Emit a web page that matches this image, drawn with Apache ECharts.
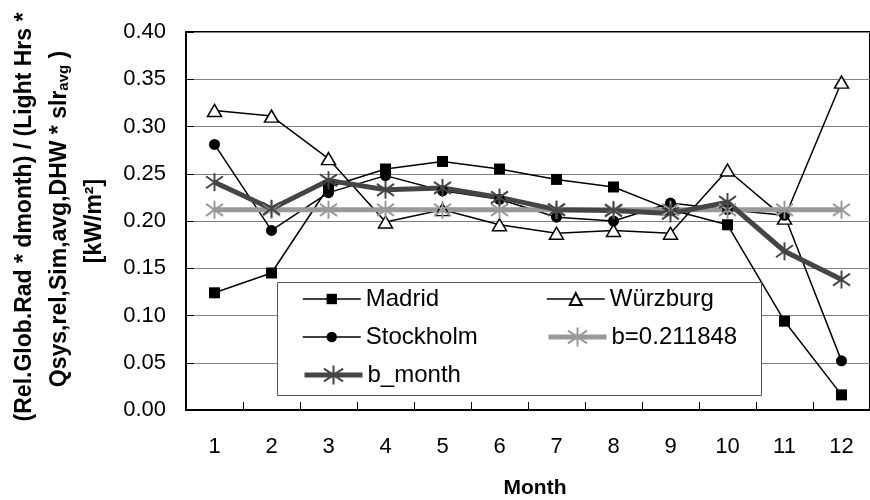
<!DOCTYPE html>
<html>
<head>
<meta charset="utf-8">
<script src="https://cdn.jsdelivr.net/npm/echarts@6/dist/echarts.min.js"></script>
<style>
  html, body { margin: 0; padding: 0; background: #fff; }
  #chart { width: 870px; height: 500px; }
</style>
</head>
<body>
<div id="chart"></div>
<script>
// Monthly ratio per site, kW/m²
const months = ['1', '2', '3', '4', '5', '6', '7', '8', '9', '10', '11', '12'];
const madrid    = [0.124, 0.145, 0.236, 0.255, 0.263, 0.255, 0.244, 0.236, 0.212, 0.196, 0.094, 0.016];
const wurzburg  = [0.317, 0.311, 0.266, 0.199, 0.212, 0.196, 0.187, 0.190, 0.187, 0.254, 0.203, 0.347];
const stockholm = [0.281, 0.190, 0.230, 0.248, 0.232, 0.223, 0.204, 0.200, 0.219, 0.212, 0.206, 0.052];
const bConst    = [0.211848, 0.211848, 0.211848, 0.211848, 0.211848, 0.211848,
                   0.211848, 0.211848, 0.211848, 0.211848, 0.211848, 0.211848];
const bMonth    = [0.241, 0.213, 0.243, 0.233, 0.235, 0.225, 0.212, 0.211, 0.208, 0.220, 0.168, 0.138];

const yTicks = [0, 0.05, 0.10, 0.15, 0.20, 0.25, 0.30, 0.35, 0.40];

const FONT = 'Arial, "Liberation Sans", sans-serif';
const STAR = 'path://M0,-9L0,9M-8,-6L8,6M-8,6L8,-6';

const chart = echarts.init(document.getElementById('chart'), null, { renderer: 'canvas' });

function lineSeries(name, data, opts) {
  return Object.assign({
    name: name,
    type: 'line',
    data: data,
    animation: false,
    emphasis: { disabled: true },
    z: 2
  }, opts);
}

const legendText = { fontSize: 24, fontFamily: FONT, color: '#000', lineHeight: 24 };

// one legend block per symbol size, arranged in two columns inside the box
function legendBlock(items, left, top, itemHeight) {
  return {
    data: items,
    orient: 'vertical', left: left, top: top, z: 10,
    itemWidth: 58, itemHeight: itemHeight, itemGap: 14, padding: 0,
    textStyle: legendText,
    selectedMode: false
  };
}

const option = {
  backgroundColor: '#ffffff',
  animation: false,
  grid: {
    left: 186, top: 32, right: -10, bottom: 90,
    show: true, borderColor: '#000', borderWidth: 2, backgroundColor: 'transparent'
  },
  xAxis: {
    type: 'category',
    data: months,
    boundaryGap: true,
    axisLine: { lineStyle: { color: '#000', width: 2 } },
    axisTick: { show: true, inside: true, length: 8, interval: 0, lineStyle: { color: '#000', width: 1 } },
    axisLabel: { margin: 26, fontSize: 22, fontFamily: FONT, color: '#000', interval: 0 },
    splitLine: { show: false }
  },
  yAxis: {
    type: 'value',
    min: yTicks[0],
    max: yTicks[yTicks.length - 1],
    interval: 0.05,
    axisLine: { show: true, lineStyle: { color: '#000', width: 2 } },
    axisTick: { show: true, inside: true, length: 8, lineStyle: { color: '#000', width: 1 } },
    axisLabel: {
      margin: 20, fontSize: 22, fontFamily: FONT, color: '#000',
      formatter: v => v.toFixed(2)
    },
    splitLine: { show: true, lineStyle: { color: '#808080', width: 1 } }
  },
  legend: [
    legendBlock([
      { name: 'Madrid', lineStyle: { width: 1.5 } },
      { name: 'Stockholm', lineStyle: { width: 1.5 } }
    ], 302, 287, 13),
    legendBlock([
      { name: 'b_month', lineStyle: { width: 5 } }
    ], 302, 363, 24),
    legendBlock([
      { name: 'Würzburg', lineStyle: { width: 1.5 } }
    ], 546, 287, 15),
    legendBlock([
      { name: 'b=0.211848', lineStyle: { width: 5 } }
    ], 546, 325, 24)
  ],
  graphic: [
    {
      type: 'rect', z: 5,
      shape: { x: 277.5, y: 282.5, width: 484, height: 113 },
      style: { fill: '#fff', stroke: '#555', lineWidth: 1 },
      silent: true
    },
    {
      type: 'text', x: 25, y: 217, rotation: Math.PI / 2,
      style: {
        text: '(Rel.Glob.Rad * dmonth) / (Light Hrs *',
        fontSize: 23, fontWeight: 'bold', fontFamily: FONT, fill: '#000',
        align: 'center', verticalAlign: 'middle'
      }
    },
    {
      type: 'text', x: 60, y: 219, rotation: Math.PI / 2,
      style: {
        text: '{a|Qsys,rel,Sim,avg,DHW * slr}{s|avg}{a| )}',
        align: 'center', verticalAlign: 'middle',
        rich: {
          a: { fontSize: 23, fontWeight: 'bold', fontFamily: FONT, fill: '#000', verticalAlign: 'bottom' },
          s: { fontSize: 15, fontWeight: 'bold', fontFamily: FONT, fill: '#000', verticalAlign: 'bottom' }
        }
      }
    },
    {
      type: 'text', x: 95, y: 221, rotation: Math.PI / 2,
      style: {
        text: '[kW/m²]',
        fontSize: 23, fontWeight: 'bold', fontFamily: FONT, fill: '#000',
        align: 'center', verticalAlign: 'middle'
      }
    },
    {
      type: 'text', x: 535, y: 488,
      style: {
        text: 'Month',
        fontSize: 21, fontWeight: 'bold', fontFamily: FONT, fill: '#000',
        align: 'center', verticalAlign: 'middle'
      }
    }
  ],
  series: [
    lineSeries('Madrid', madrid, {
      symbol: 'rect', symbolSize: 11,
      lineStyle: { color: '#000', width: 1.5 },
      itemStyle: { color: '#000' }
    }),
    lineSeries('Würzburg', wurzburg, {
      symbol: 'triangle', symbolSize: [14, 12],
      lineStyle: { color: '#000', width: 1.5 },
      itemStyle: { color: '#fff', borderColor: '#000', borderWidth: 1.5 }
    }),
    lineSeries('Stockholm', stockholm, {
      symbol: 'circle', symbolSize: 11,
      lineStyle: { color: '#000', width: 1.5 },
      itemStyle: { color: '#000' }
    }),
    lineSeries('b=0.211848', bConst, {
      symbol: STAR, symbolSize: [17, 18],
      lineStyle: { color: '#999999', width: 5 },
      itemStyle: { color: '#999999', borderColor: '#999999', borderWidth: 2 }
    }),
    lineSeries('b_month', bMonth, {
      symbol: STAR, symbolSize: [17, 18],
      lineStyle: { color: '#454545', width: 5 },
      itemStyle: { color: '#454545', borderColor: '#454545', borderWidth: 2 }
    })
  ]
};

chart.setOption(option);
</script>
</body>
</html>
